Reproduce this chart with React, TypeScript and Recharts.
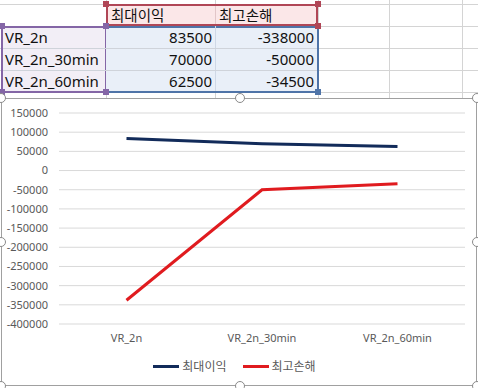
import React from 'react';
import { LineChart, Line, XAxis, YAxis, CartesianGrid, Legend } from 'recharts';

// sheet values (also what the chart plots)
const categories = ['VR_2n', 'VR_2n_30min', 'VR_2n_60min'];
const maxProfit = [83500, 70000, 62500];
const maxLoss = [-338000, -50000, -34500];
const seriesNames = ['최대이익', '최고손해'];
const yTicks = [150000, 100000, 50000, 0, -50000, -100000, -150000, -200000, -250000, -300000, -350000, -400000];

const NAVY = '#122b5a';
const RED = '#e01b1f';
const FONT = "'Noto Sans', 'Noto Sans CJK KR', sans-serif";

const rows = categories.map((c, i) => ({ name: c, profit: maxProfit[i], loss: maxLoss[i] }));

const COLS = [0, 106, 215, 318, 389, 462];
const ROWS = [4, 26, 48, 70, 92];

function Handle({ x, y, color }: { x: number; y: number; color: string }) {
  return (
    <div style={{ position: 'absolute', left: x - 3, top: y - 3, width: 6, height: 6, background: color }} />
  );
}

function Circle({ x, y }: { x: number; y: number }) {
  return (
    <div
      style={{
        position: 'absolute',
        left: x - 5,
        top: y - 5,
        width: 8,
        height: 8,
        borderRadius: '50%',
        border: '1.5px solid #8a8a8a',
        background: '#fff',
      }}
    />
  );
}

function Sheet() {
  const cell: React.CSSProperties = {
    position: 'absolute',
    height: 22,
    lineHeight: '22px',
    fontSize: 15,
    color: '#111',
    fontFamily: FONT,
    whiteSpace: 'nowrap',
  };
  return (
    <>
      {COLS.slice(1).map((x) => (
        <div key={'v' + x} style={{ position: 'absolute', left: x, top: 0, width: 1, height: 98, background: '#d4d4d4' }} />
      ))}
      {ROWS.map((y) => (
        <div key={'h' + y} style={{ position: 'absolute', left: 0, top: y, width: 478, height: 1, background: '#d4d4d4' }} />
      ))}

      {/* header B1:C1 */}
      <div style={{ position: 'absolute', left: 106, top: 4, width: 212, height: 22, background: '#fbe7e8', border: '2px solid #b04656', boxSizing: 'border-box' }} />
      <div style={{ position: 'absolute', left: 215, top: 6, width: 1, height: 18, background: '#e2c6c8' }} />
      {/* A2:A4 */}
      <div style={{ position: 'absolute', left: 1, top: 26, width: 106, height: 67, background: '#f2eef6', border: '2px solid #8466a6', boxSizing: 'border-box' }} />
      {/* B2:C4 */}
      <div style={{ position: 'absolute', left: 106, top: 26, width: 213, height: 67, background: '#e9eff8', border: '2px solid #4f74a8', borderLeft: 'none', boxSizing: 'border-box' }} />
      <div style={{ position: 'absolute', left: 215, top: 26, width: 1, height: 65, background: '#cfd8e6' }} />
      {[48, 70].map((y) => (
        <div key={'r' + y} style={{ position: 'absolute', left: 3, top: y, width: 314, height: 1, background: '#cfd3da' }} />
      ))}

      <Handle x={106} y={4} color="#b04656" />
      <Handle x={318} y={4} color="#b04656" />
      <Handle x={318} y={26} color="#b04656" />
      <Handle x={2} y={26} color="#8466a6" />
      <Handle x={106} y={26} color="#8466a6" />
      <Handle x={2} y={92} color="#8466a6" />
      <Handle x={106} y={92} color="#8466a6" />
      <Handle x={318} y={92} color="#4f74a8" />

      <div style={{ ...cell, left: 111, top: 4, fontSize: 14.5 }}>{seriesNames[0]}</div>
      <div style={{ ...cell, left: 219, top: 4, fontSize: 14.5 }}>{seriesNames[1]}</div>
      {categories.map((c, i) => (
        <React.Fragment key={c}>
          <div style={{ ...cell, left: 5, top: 26 + i * 22 }}>{c}</div>
          <div style={{ ...cell, left: 106, width: 106, top: 26 + i * 22, textAlign: 'right' }}>{maxProfit[i]}</div>
          <div style={{ ...cell, left: 215, width: 99, top: 26 + i * 22, textAlign: 'right' }}>{maxLoss[i]}</div>
        </React.Fragment>
      ))}
    </>
  );
}

const renderLegend = (props: any) => {
  const items = [...(props.payload || [])].sort(
    (a: any, b: any) => seriesNames.indexOf(a.value) - seriesNames.indexOf(b.value)
  );
  return (
    <div style={{ display: 'flex', justifyContent: 'center', alignItems: 'center', gap: 16, height: 24 }}>
      {items.map((it: any) => (
        <div key={it.value} style={{ display: 'flex', alignItems: 'center' }}>
          <span style={{ display: 'inline-block', width: 26, height: 3, background: it.color, marginRight: 3 }} />
          <span style={{ fontSize: 12, color: '#595959', fontFamily: FONT }}>{it.value}</span>
        </div>
      ))}
    </div>
  );
};

export default function App() {
  const tick = { fill: '#595959', fontSize: 11, fontFamily: FONT };
  return (
    <div style={{ position: 'fixed', left: 0, top: 0, width: 478, height: 388, overflow: 'hidden', background: '#fff' }}>
      <Sheet />
      <div style={{ position: 'absolute', left: 1, top: 98, width: 476, height: 288, border: '1.5px solid #a0a0a0', background: '#fff', boxSizing: 'border-box' }} />
      <div style={{ position: 'absolute', left: 0, top: 98 }}>
        <LineChart width={478} height={290} data={rows} margin={{ top: 15, right: 13, bottom: 10, left: 4 }}>
          <CartesianGrid vertical={false} stroke="#d9d9d9" />
          <XAxis
            dataKey="name"
            axisLine={false}
            tickLine={false}
            tick={tick}
            tickMargin={4}
            height={30}
            padding={{ left: 67.5, right: 67.5 }}
          />
          <YAxis
            type="number"
            domain={[-400000, 150000]}
            ticks={yTicks}
            interval={0}
            axisLine={false}
            tickLine={false}
            tick={tick}
            tickMargin={5}
            width={55}
          />
          <Legend verticalAlign="bottom" height={24} content={renderLegend} />
          <Line type="linear" dataKey="profit" name={seriesNames[0]} stroke={NAVY} strokeWidth={3} dot={false} isAnimationActive={false} />
          <Line type="linear" dataKey="loss" name={seriesNames[1]} stroke={RED} strokeWidth={3} dot={false} isAnimationActive={false} />
        </LineChart>
      </div>
      <Circle x={1} y={98} />
      <Circle x={240} y={98} />
      <Circle x={477} y={98} />
      <Circle x={1} y={242} />
      <Circle x={477} y={242} />
      <Circle x={1} y={386} />
      <Circle x={240} y={386} />
      <Circle x={477} y={386} />
    </div>
  );
}
